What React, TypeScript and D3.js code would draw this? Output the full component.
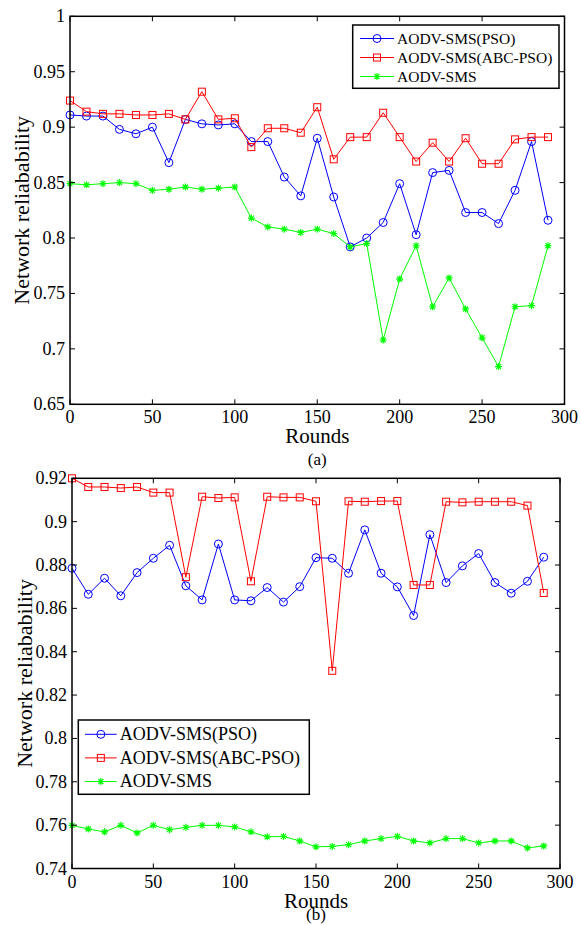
import React from 'react';
import * as d3 from 'd3';

// rounds on the x axis (shared by both panels)
const rounds = d3.range(0, 300, 10);

// panel (a)
const psoA = [0.911, 0.910, 0.910, 0.898, 0.894, 0.900, 0.868, 0.907, 0.903, 0.902,
  0.903, 0.887, 0.887, 0.855, 0.838, 0.890, 0.837, 0.792, 0.800, 0.814,
  0.849, 0.803, 0.859, 0.861, 0.823, 0.823, 0.813, 0.843, 0.887, 0.816];
const abcA = [0.924, 0.914, 0.912, 0.912, 0.911, 0.911, 0.912, 0.907, 0.932, 0.907,
  0.908, 0.882, 0.899, 0.899, 0.895, 0.918, 0.871, 0.891, 0.891, 0.913,
  0.891, 0.869, 0.886, 0.869, 0.890, 0.867, 0.867, 0.889, 0.891, 0.891];
const smsA = [0.849, 0.848, 0.849, 0.850, 0.849, 0.843, 0.844, 0.846, 0.844, 0.845,
  0.846, 0.818, 0.810, 0.808, 0.805, 0.808, 0.804, 0.792, 0.795, 0.708,
  0.763, 0.793, 0.738, 0.764, 0.736, 0.710, 0.684, 0.738, 0.739, 0.793];

// panel (b)
const psoB = [0.8785, 0.8665, 0.8739, 0.8658, 0.8765, 0.8831, 0.8891, 0.8704, 0.8639, 0.8897,
  0.8639, 0.8635, 0.8696, 0.8629, 0.8700, 0.8834, 0.8831, 0.8762, 0.8962, 0.8762,
  0.8699, 0.8567, 0.8940, 0.8719, 0.8796, 0.8853, 0.8719, 0.8670, 0.8725, 0.8836];
const abcB = [0.9200, 0.9160, 0.9160, 0.9155, 0.9160, 0.9134, 0.9134, 0.8744, 0.9115, 0.9109,
  0.9112, 0.8725, 0.9115, 0.9112, 0.9112, 0.9094, 0.8312, 0.9094, 0.9092, 0.9095,
  0.9095, 0.8708, 0.8708, 0.9092, 0.9089, 0.9092, 0.9092, 0.9092, 0.9074, 0.8671];
const smsB = [0.7599, 0.7582, 0.7569, 0.7599, 0.7564, 0.7599, 0.7579, 0.7590, 0.7599, 0.7599,
  0.7592, 0.7569, 0.7546, 0.7548, 0.7527, 0.7500, 0.7502, 0.7510, 0.7527, 0.7538,
  0.7548, 0.7527, 0.7518, 0.7538, 0.7538, 0.7518, 0.7527, 0.7527, 0.7495, 0.7504];

const seriesNames = ['AODV-SMS(PSO)', 'AODV-SMS(ABC-PSO)', 'AODV-SMS'];
const seriesColors = ['#0000ff', '#ff0000', '#00ff00'];
const xTicks = [0, 50, 100, 150, 200, 250, 300];
const yTicksA = [0.65, 0.7, 0.75, 0.8, 0.85, 0.9, 0.95, 1];
const yTicksB = [0.74, 0.76, 0.78, 0.8, 0.82, 0.84, 0.86, 0.88, 0.9, 0.92];

const FONT = '"Liberation Serif", "Times New Roman", serif';
const fmt = d3.format('.2~f');

function Marker({ kind, x, y, color }) {
  if (kind === 0) {
    return <circle cx={x} cy={y} r={4} fill="none" stroke={color} strokeWidth={1} />;
  }
  if (kind === 1) {
    return <rect x={x - 3.5} y={y - 3.5} width={7} height={7} fill="none" stroke={color} strokeWidth={1} />;
  }
  // matlab '*' marker
  const s = 3.5;
  const d = 2.5;
  return (
    <path
      d={`M${x - s},${y}H${x + s}M${x},${y - s}V${y + s}M${x - d},${y - d}L${x + d},${y + d}M${x - d},${y + d}L${x + d},${y - d}`}
      stroke={color}
      strokeWidth={1.2}
      fill="none"
    />
  );
}

function Panel({ series, yDomain, yTicks, box, legend, caption, captionY, yLabelX }) {
  const x = d3.scaleLinear().domain([0, 300]).range([box.left, box.right]);
  const y = d3.scaleLinear().domain(yDomain).range([box.bottom, box.top]);
  const line = d3.line<number>()
    .x((d, i) => x(rounds[i]))
    .y((d) => y(d));
  const tick = 5;

  return (
    <g fontFamily={FONT} fill="#000">
      {/* data lines and markers */}
      {series.map((vals, s) => (
        <g key={s}>
          <path d={line(vals)} fill="none" stroke={seriesColors[s]} strokeWidth={1} />
          {vals.map((v, i) => (
            <Marker key={i} kind={s} x={x(rounds[i])} y={y(v)} color={seriesColors[s]} />
          ))}
        </g>
      ))}

      {/* frame */}
      <rect
        x={box.left}
        y={box.top}
        width={box.right - box.left}
        height={box.bottom - box.top}
        fill="none"
        stroke="#000"
        strokeWidth={1.5}
      />

      {/* x ticks (bottom + mirrored top) */}
      {xTicks.map((t) => (
        <g key={t}>
          <line x1={x(t)} x2={x(t)} y1={box.bottom} y2={box.bottom - tick} stroke="#000" />
          <line x1={x(t)} x2={x(t)} y1={box.top} y2={box.top + tick} stroke="#000" />
          <text x={x(t)} y={box.bottom + 19} fontSize={18} textAnchor="middle">{t}</text>
        </g>
      ))}

      {/* y ticks (left + mirrored right) */}
      {yTicks.map((t) => (
        <g key={t}>
          <line x1={box.left} x2={box.left + tick} y1={y(t)} y2={y(t)} stroke="#000" />
          <line x1={box.right} x2={box.right - tick} y1={y(t)} y2={y(t)} stroke="#000" />
          <text x={box.left - 5} y={y(t) + 6} fontSize={18} textAnchor="end">{fmt(t)}</text>
        </g>
      ))}

      {/* axis titles */}
      <text x={(box.left + box.right) / 2} y={box.bottom + 39} fontSize={21} textAnchor="middle">Rounds</text>
      <text x={(box.left + box.right) / 2} y={captionY} fontSize={17} textAnchor="middle">{caption}</text>
      <text
        transform={`translate(${yLabelX},${(box.top + box.bottom) / 2}) rotate(-90)`}
        fontSize={22}
        textAnchor="middle"
      >
        Network reliabability
      </text>

      {/* legend */}
      <rect
        x={legend.x}
        y={legend.y}
        width={legend.w}
        height={legend.h}
        fill="#fff"
        stroke="#000"
        strokeWidth={1.5}
      />
      {seriesNames.map((name, s) => {
        const ly = legend.y + legend.first + s * legend.step;
        const lx = legend.x + legend.pad;
        return (
          <g key={name}>
            <line x1={lx} x2={lx + legend.len} y1={ly} y2={ly} stroke={seriesColors[s]} strokeWidth={1} />
            <Marker kind={s} x={lx + legend.len / 2} y={ly} color={seriesColors[s]} />
            <text x={lx + legend.len + 3} y={ly + legend.font * 0.33} fontSize={legend.font}>{name}</text>
          </g>
        );
      })}
    </g>
  );
}

export default function App() {
  return (
    <svg
      width={581}
      height={925}
      style={{ position: 'absolute', left: 0, top: 0, background: '#fff' }}
    >
      <Panel
        series={[psoA, abcA, smsA]}
        yDomain={[0.65, 1]}
        yTicks={yTicksA}
        box={{ left: 70, right: 564.5, top: 16.3, bottom: 404.3 }}
        legend={{ x: 352.7, y: 25, w: 206.3, h: 63.3, pad: 7.3, len: 34, first: 13.5, step: 19, font: 15.5 }}
        caption="(a)"
        captionY={465}
        yLabelX={29}
      />
      <Panel
        series={[psoB, abcB, smsB]}
        yDomain={[0.74, 0.92]}
        yTicks={yTicksB}
        box={{ left: 72, right: 560, top: 478.3, bottom: 868.5 }}
        legend={{ x: 78.3, y: 720, w: 231, h: 74.3, pad: 6.7, len: 31.7, first: 14.3, step: 23.6, font: 18 }}
        caption="(b)"
        captionY={920}
        yLabelX={32}
      />
    </svg>
  );
}
